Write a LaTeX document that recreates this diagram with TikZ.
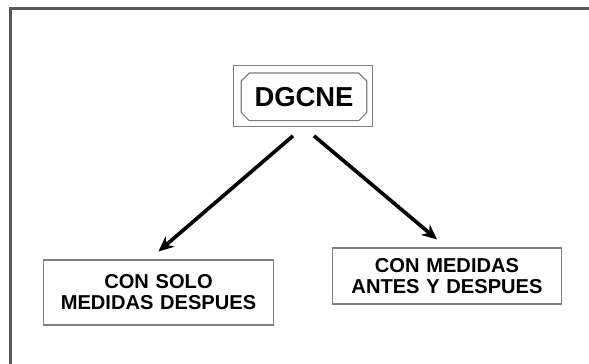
\documentclass[tikz,border=0pt]{standalone}
\usepackage{fontspec}
\setmainfont{Liberation Sans}
\usepackage{tikz}
\usetikzlibrary{positioning,arrows,arrows.meta,shapes}

\begin{document}
\begin{tikzpicture}[
    frameline/.style={draw=black!65, line width=2.2pt},
    topbox/.style={rectangle, minimum width=3.125cm, minimum height=1.175cm, inner sep=0pt, font=\fontsize{19.5}{22}\selectfont\bfseries},
    chamfer/.style={draw=black!50, line width=0.8pt},
    outerbox/.style={rectangle, draw=black!50, line width=0.8pt, minimum width=3.475cm, minimum height=1.525cm},
    box/.style={rectangle, draw=black!50, line width=0.8pt, text width=5.5cm, align=center, minimum width=5.6cm, font=\fontsize{14.3}{15}\selectfont\bfseries},
    arrow/.style={-{Stealth[length=0.38cm, width=0.34cm]}, line width=2.6pt}
]
    \useasboundingbox (0,0) rectangle (14.725,9.1);
    \draw[frameline] (0.2625,0) -- (0.2625,8.8875) -- (14.725,8.8875);

    \node[outerbox] (frame) at (7.575,6.7) {};
    \node[topbox] (dgcne) at (7.6,6.68) {DGCNE};
    % chamfered inner border
    \draw[chamfer] ([xshift=0.2cm]dgcne.north west) -- ([xshift=-0.2cm]dgcne.north east)
        -- ([yshift=-0.2cm]dgcne.north east) -- ([yshift=0.2cm]dgcne.south east)
        -- ([xshift=-0.2cm]dgcne.south east) -- ([xshift=0.2cm]dgcne.south west)
        -- ([yshift=0.2cm]dgcne.south west) -- ([yshift=-0.2cm]dgcne.north west) -- cycle;
    \node[box, minimum height=1.625cm] (solo) at (3.9625,1.7875) {CON SOLO\\MEDIDAS DESPUES};
    \node[box, minimum height=1.4cm] (antes) at (11.175,2.2) {CON MEDIDAS\\ANTES Y DESPUES};

    \draw[arrow] ([xshift=-0.25cm,yshift=-0.22cm]frame.south) -- ([yshift=0.2cm]solo.north);
    \draw[arrow] ([xshift=0.275cm,yshift=-0.22cm]frame.south) -- ([xshift=-0.25cm,yshift=0.2cm]antes.north);
\end{tikzpicture}
\end{document}
